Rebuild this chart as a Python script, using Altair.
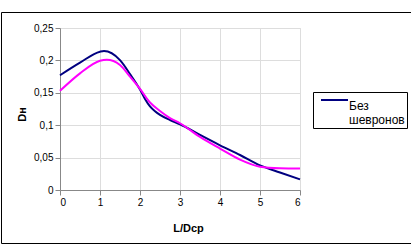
import altair as alt
import pandas as pd

# Series 1 (shown in legend)
x_blue = [0, 0.5, 1, 1.1, 1.5, 1.75, 2, 2.125, 2.25, 2.375, 2.5, 2.75, 3, 3.5, 4, 4.5, 5, 5.5, 6]
y_blue = [0.177, 0.1965, 0.2135, 0.2145, 0.2005, 0.179, 0.155, 0.1405, 0.129, 0.1215, 0.116,
          0.108, 0.1015, 0.085, 0.069, 0.054, 0.038, 0.027, 0.0165]
# Series 2
x_mag = [0, 0.5, 1, 1.17, 1.5, 1.75, 2, 2.25, 2.5, 2.75, 3, 3.5, 4, 4.5, 5, 5.5, 6]
y_mag = [0.153, 0.180, 0.1995, 0.201, 0.193, 0.175, 0.156, 0.135, 0.122, 0.111, 0.103,
         0.082, 0.064, 0.047, 0.036, 0.0335, 0.033]

names = ["Без шевронов", "С шевронами"]
x_ticks = [0, 1, 2, 3, 4, 5, 6]
y_ticks = [0, 0.05, 0.1, 0.15, 0.2, 0.25]

df = pd.concat([
    pd.DataFrame({"x": x_blue, "y": y_blue, "s": names[0]}),
    pd.DataFrame({"x": x_mag, "y": y_mag, "s": names[1]}),
])

FONT = "Liberation Sans"

lines = alt.Chart(df).mark_line(interpolate="monotone", strokeWidth=2, clip=False).encode(
    x=alt.X("x:Q", scale=alt.Scale(domain=[0, 6], nice=False),
            axis=alt.Axis(values=x_ticks, title="L/Dcp", titleX=128, titleY=41,
                          titleBaseline="alphabetic", titleAnchor="start", titleAlign="center")),
    y=alt.Y("y:Q", scale=alt.Scale(domain=[0, 0.25], nice=False),
            axis=alt.Axis(values=y_ticks, title="Dн",
                          labelExpr="replace(toString(datum.value), '.', ',')",
                          titleX=-35, titleY=86, titleAngle=-90, titleAlign="center",
                          titleBaseline="alphabetic", titleAnchor="start")),
    color=alt.Color("s:N", scale=alt.Scale(domain=names, range=["#000080", "#FF00FF"]),
                    legend=alt.Legend(values=[names[0]], title=None, orient="none",
                                      legendX=253, legendY=64,
                                      labelExpr="split(datum.label, ' ')",
                                      symbolType="M0,0H9", symbolSize=36,
                                      symbolStrokeWidth=2, symbolOffset=0,
                                      labelOffset=22,
                                      padding=2, strokeColor="black",
                                      labelFont=FONT, labelFontSize=12, labelColor="black",
                                      labelBaseline="line-top", rowPadding=0)),
)

border = alt.Chart(pd.DataFrame({"a": [0]})).mark_rect(
    fillOpacity=0, stroke="black", strokeWidth=1
).encode(
    x=alt.value(-58.5), x2=alt.value(360), y=alt.value(-15.5), y2=alt.value(215.5)
)

chart = alt.layer(lines, border).properties(
    width=240, height=162,
    padding={"left": 60, "top": 28, "right": 111, "bottom": 55},
    autosize=alt.AutoSizeParams(type="none"),
).configure_view(
    stroke="#808080", strokeWidth=1
).configure_axis(
    grid=True, gridColor="#555555", gridWidth=1, gridOpacity=1,
    domainColor="black", domainWidth=1, tickColor="black", tickSize=4,
    labelFont=FONT, labelFontSize=12, labelColor="black",
    titleFont=FONT, titleFontSize=12, titleFontWeight="bold", titleColor="black",
).configure_axisX(
    labelPadding=6
).configure_axisY(
    labelPadding=6
).configure(
    style={"guide-label": {"lineHeight": 14}}
)

chart.save("out.html", embed_options={"renderer": "svg", "actions": False})
